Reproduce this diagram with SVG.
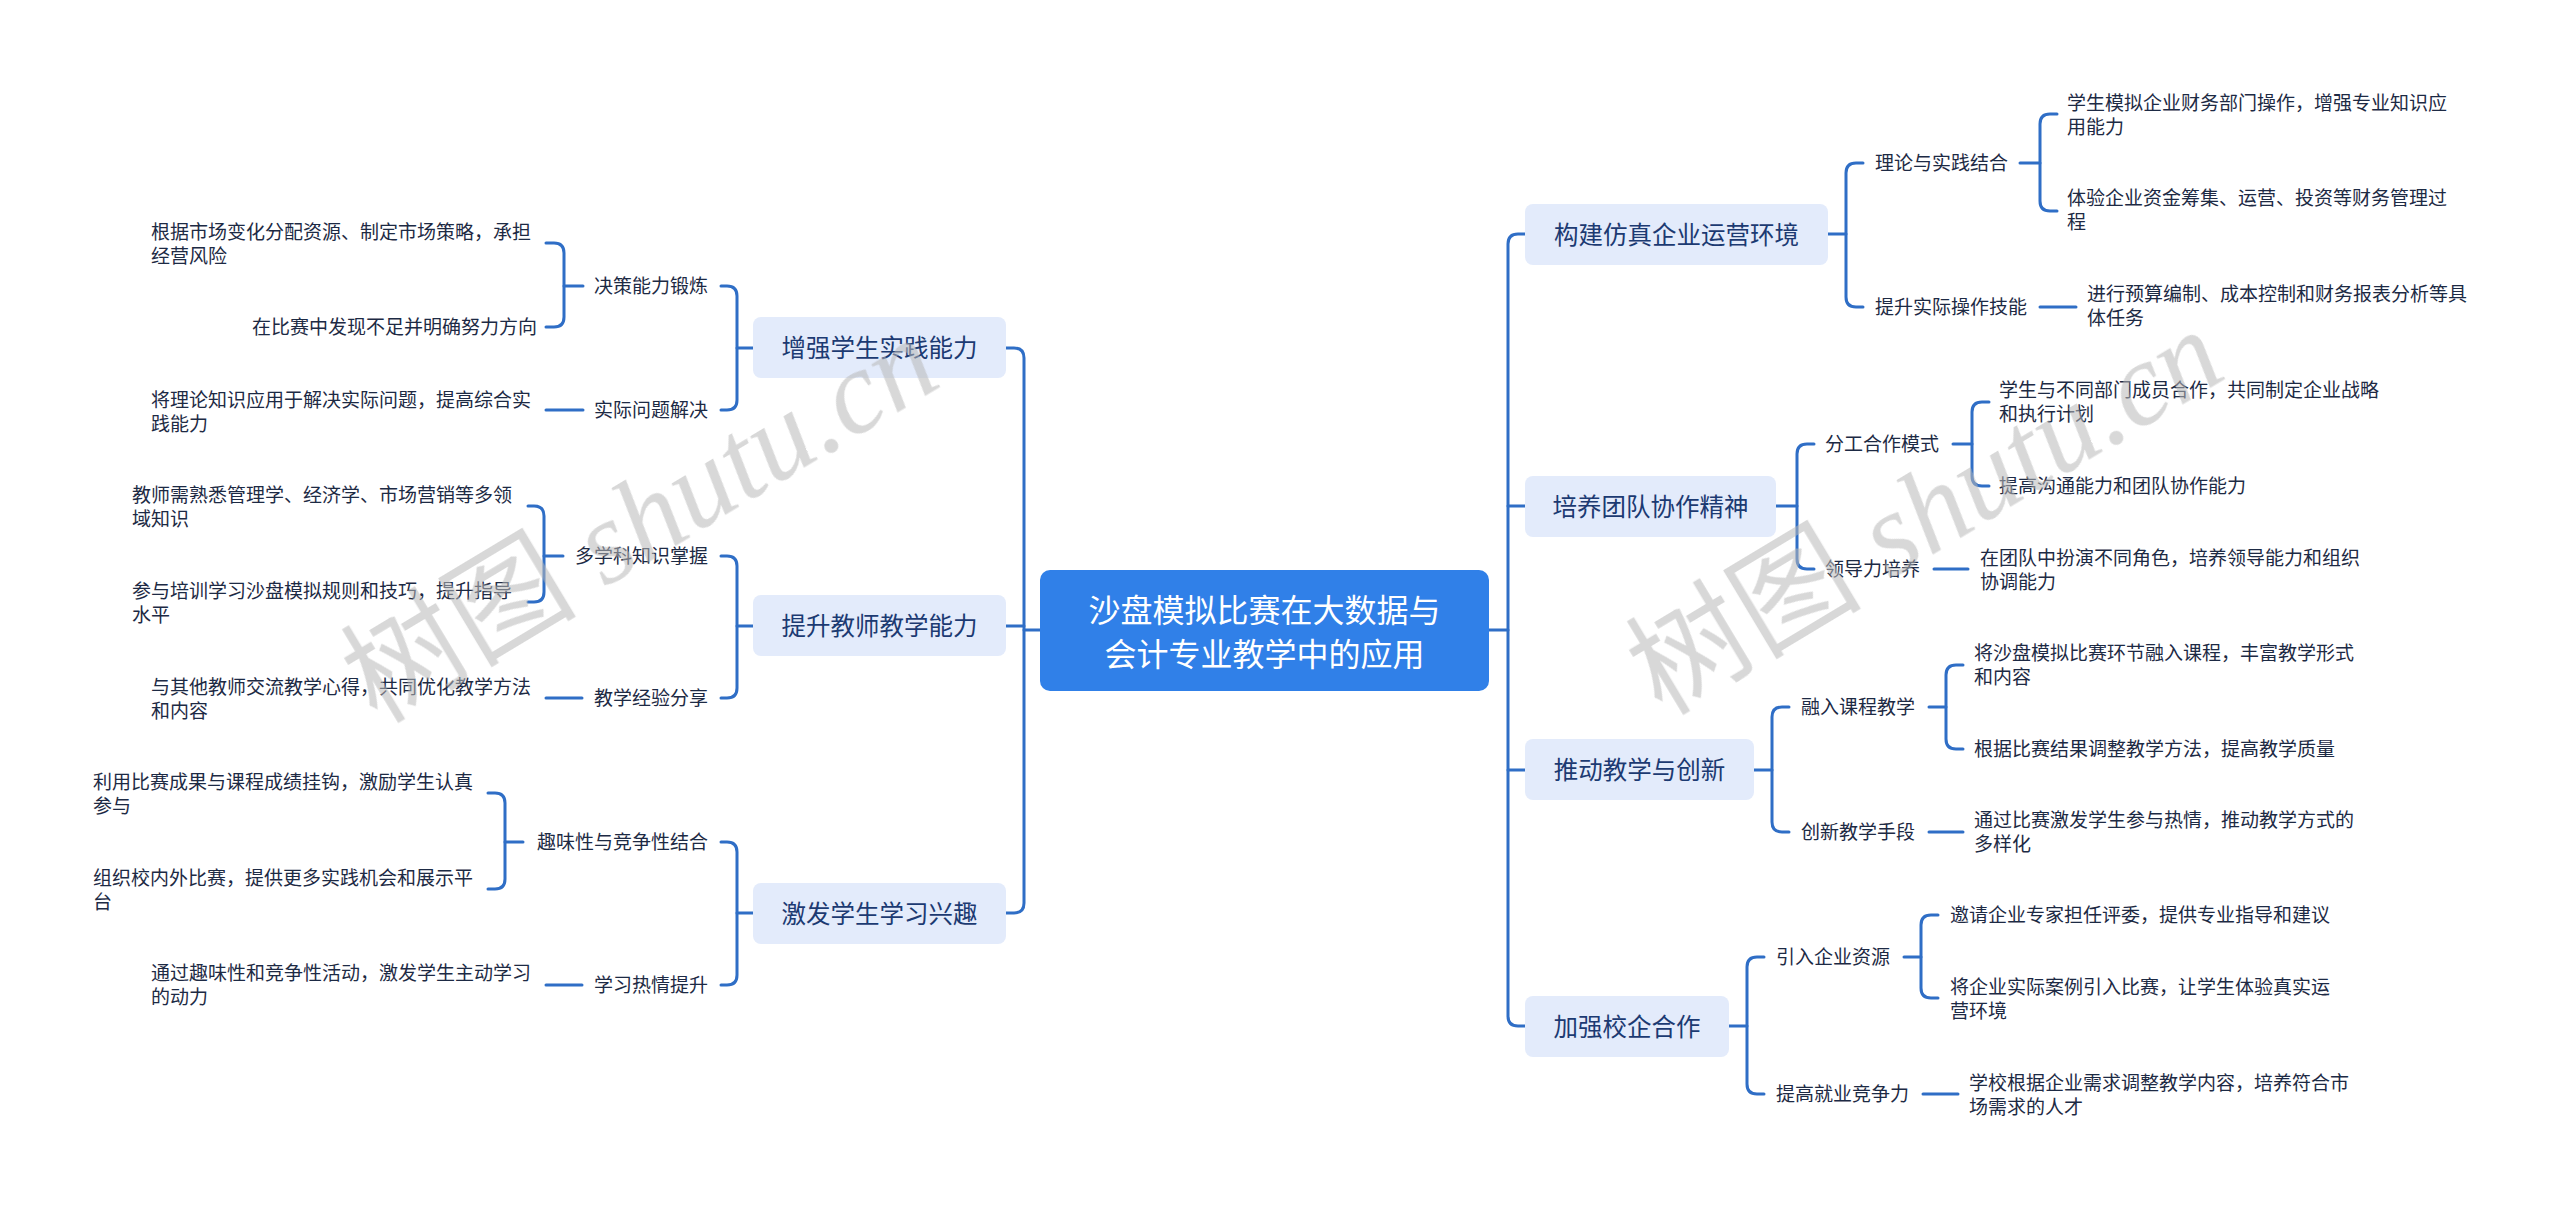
<svg xmlns="http://www.w3.org/2000/svg" width="2560" height="1210" viewBox="0 0 2560 1210">
<style>
.bg{fill:#ffffff}
.conn path{fill:none;stroke:#2f6ec6;stroke-width:3;stroke-linecap:round;stroke-linejoin:round}
.root rect{fill:#3080e8}
.root text{fill:#ffffff;font-family:"Noto Sans CJK SC","Noto Sans",sans-serif;font-size:32px;text-anchor:middle}
.main rect{fill:#e3ebfb}
.main text{fill:#1c3a72;font-family:"Noto Sans CJK SC","Noto Sans",sans-serif;font-size:24.5px;text-anchor:middle}
.sub text,.leaf text{fill:#1d2a44;font-family:"Noto Sans CJK SC","Noto Sans",sans-serif;font-size:19px}
.wm{fill:#b8b8b8;opacity:0.55;font-size:118px}
.wm .cjk{font-family:"Noto Sans CJK SC",sans-serif}
.wm .lat{font-family:"Liberation Serif",serif;font-style:italic}
</style>
<rect class="bg" x="0" y="0" width="2560" height="1210"/>

<g id="connectors" class="conn">
  <!-- left main -->
  <path d="M1040,630 H1024"/>
  <path d="M1006,348 H1014 Q1024,348 1024,358 V903 Q1024,913 1014,913 H1006"/>
  <path d="M1006,626 H1024"/>
  <!-- left sub trunks -->
  <path d="M753,348 H737"/>
  <path d="M721,286 H727 Q737,286 737,296 V400 Q737,410 727,410 H721"/>
  <path d="M753,626 H737"/>
  <path d="M721,556 H727 Q737,556 737,566 V688 Q737,698 727,698 H721"/>
  <path d="M753,913 H737"/>
  <path d="M721,842 H727 Q737,842 737,852 V975 Q737,985 727,985 H721"/>
  <!-- left leaf brackets -->
  <path d="M583,286 H564"/>
  <path d="M546,243 H554 Q564,243 564,253 V317 Q564,327 554,327 H546"/>
  <path d="M583,410 H546"/>
  <path d="M563,556 H544"/>
  <path d="M528,506 H534 Q544,506 544,516 V592 Q544,602 534,602 H528"/>
  <path d="M582,698 H546"/>
  <path d="M523,842 H505"/>
  <path d="M488,793 H495 Q505,793 505,803 V879 Q505,889 495,889 H488"/>
  <path d="M582,985 H546"/>
  <!-- right main -->
  <path d="M1489,630 H1508"/>
  <path d="M1525,234 H1518 Q1508,234 1508,244 V1016 Q1508,1026 1518,1026 H1525"/>
  <path d="M1508,506 H1525"/>
  <path d="M1508,770 H1525"/>
  <!-- right sub trunks -->
  <path d="M1828,234 H1846"/>
  <path d="M1863,163 H1856 Q1846,163 1846,173 V297 Q1846,307 1856,307 H1863"/>
  <path d="M1776,506 H1797"/>
  <path d="M1814,444 H1807 Q1797,444 1797,454 V559 Q1797,569 1807,569 H1814"/>
  <path d="M1754,770 H1772"/>
  <path d="M1789,707 H1782 Q1772,707 1772,717 V822 Q1772,832 1782,832 H1789"/>
  <path d="M1729,1026 H1747"/>
  <path d="M1764,957 H1757 Q1747,957 1747,967 V1084 Q1747,1094 1757,1094 H1764"/>
  <!-- right leaf brackets -->
  <path d="M2020,163 H2040"/>
  <path d="M2057,114 H2050 Q2040,114 2040,124 V201 Q2040,211 2050,211 H2057"/>
  <path d="M2040,307 H2076"/>
  <path d="M1953,444 H1972"/>
  <path d="M1989,402 H1982 Q1972,402 1972,412 V476 Q1972,486 1982,486 H1989"/>
  <path d="M1934,569 H1968"/>
  <path d="M1929,707 H1946"/>
  <path d="M1963,665 H1956 Q1946,665 1946,675 V739 Q1946,749 1956,749 H1963"/>
  <path d="M1929,832 H1963"/>
  <path d="M1904,957 H1921"/>
  <path d="M1938,915 H1931 Q1921,915 1921,925 V988 Q1921,998 1931,998 H1938"/>
  <path d="M1923,1094 H1958"/>
</g>

<g id="root" class="root">
  <rect x="1040" y="570" width="449" height="121" rx="10"/>
  <text x="1264.5" y="622">沙盘模拟比赛在大数据与</text>
  <text x="1264.5" y="666">会计专业教学中的应用</text>
</g>

<g id="n-zengqiang" class="main"><rect x="753" y="317" width="253" height="61" rx="8"/><text x="879.5" y="357">增强学生实践能力</text></g>
<g id="n-tisheng" class="main"><rect x="753" y="595" width="253" height="61" rx="8"/><text x="879.5" y="635">提升教师教学能力</text></g>
<g id="n-jifa" class="main"><rect x="753" y="883" width="253" height="61" rx="8"/><text x="879.5" y="923">激发学生学习兴趣</text></g>
<g id="n-goujian" class="main"><rect x="1525" y="204" width="303" height="61" rx="8"/><text x="1676.5" y="244">构建仿真企业运营环境</text></g>
<g id="n-peiyang" class="main"><rect x="1525" y="476" width="251" height="61" rx="8"/><text x="1650.5" y="516">培养团队协作精神</text></g>
<g id="n-tuidong" class="main"><rect x="1525" y="739" width="229" height="61" rx="8"/><text x="1639.5" y="779">推动教学与创新</text></g>
<g id="n-jiaqiang" class="main"><rect x="1525" y="996" width="204" height="61" rx="8"/><text x="1627" y="1036">加强校企合作</text></g>

<g id="subs-left" class="sub" text-anchor="end">
  <g id="s-juece"><text x="708" y="293">决策能力锻炼</text></g>
  <g id="s-shiji"><text x="708" y="417">实际问题解决</text></g>
  <g id="s-duoxueke"><text x="708" y="563">多学科知识掌握</text></g>
  <g id="s-jingyan"><text x="708" y="705">教学经验分享</text></g>
  <g id="s-quwei"><text x="708" y="849">趣味性与竞争性结合</text></g>
  <g id="s-reqing"><text x="708" y="992">学习热情提升</text></g>
</g>

<g id="subs-right" class="sub">
  <g id="s-lilun"><text x="1875" y="170">理论与实践结合</text></g>
  <g id="s-caozuo"><text x="1875" y="314">提升实际操作技能</text></g>
  <g id="s-fengong"><text x="1825" y="451">分工合作模式</text></g>
  <g id="s-lingdao"><text x="1825" y="576">领导力培养</text></g>
  <g id="s-rongru"><text x="1801" y="714">融入课程教学</text></g>
  <g id="s-chuangxin"><text x="1801" y="839">创新教学手段</text></g>
  <g id="s-yinru"><text x="1776" y="964">引入企业资源</text></g>
  <g id="s-jiuye"><text x="1776" y="1101">提高就业竞争力</text></g>
</g>

<g id="leaves-left" class="leaf">
  <g id="l1"><text x="151" y="239">根据市场变化分配资源、制定市场策略，承担</text><text x="151" y="263">经营风险</text></g>
  <g id="l2"><text x="537" y="334" text-anchor="end">在比赛中发现不足并明确努力方向</text></g>
  <g id="l3"><text x="151" y="407">将理论知识应用于解决实际问题，提高综合实</text><text x="151" y="431">践能力</text></g>
  <g id="l4"><text x="132" y="502">教师需熟悉管理学、经济学、市场营销等多领</text><text x="132" y="526">域知识</text></g>
  <g id="l5"><text x="132" y="598">参与培训学习沙盘模拟规则和技巧，提升指导</text><text x="132" y="622">水平</text></g>
  <g id="l6"><text x="151" y="694">与其他教师交流教学心得，共同优化教学方法</text><text x="151" y="718">和内容</text></g>
  <g id="l7"><text x="93" y="789">利用比赛成果与课程成绩挂钩，激励学生认真</text><text x="93" y="813">参与</text></g>
  <g id="l8"><text x="93" y="885">组织校内外比赛，提供更多实践机会和展示平</text><text x="93" y="909">台</text></g>
  <g id="l9"><text x="151" y="980">通过趣味性和竞争性活动，激发学生主动学习</text><text x="151" y="1004">的动力</text></g>
</g>

<g id="leaves-right" class="leaf">
  <g id="r1"><text x="2067" y="110">学生模拟企业财务部门操作，增强专业知识应</text><text x="2067" y="134">用能力</text></g>
  <g id="r2"><text x="2067" y="205">体验企业资金筹集、运营、投资等财务管理过</text><text x="2067" y="229">程</text></g>
  <g id="r3"><text x="2087" y="301">进行预算编制、成本控制和财务报表分析等具</text><text x="2087" y="325">体任务</text></g>
  <g id="r4"><text x="1999" y="397">学生与不同部门成员合作，共同制定企业战略</text><text x="1999" y="421">和执行计划</text></g>
  <g id="r5"><text x="1999" y="493">提高沟通能力和团队协作能力</text></g>
  <g id="r6"><text x="1980" y="565">在团队中扮演不同角色，培养领导能力和组织</text><text x="1980" y="589">协调能力</text></g>
  <g id="r7"><text x="1974" y="660">将沙盘模拟比赛环节融入课程，丰富教学形式</text><text x="1974" y="684">和内容</text></g>
  <g id="r8"><text x="1974" y="756">根据比赛结果调整教学方法，提高教学质量</text></g>
  <g id="r9"><text x="1974" y="827">通过比赛激发学生参与热情，推动教学方式的</text><text x="1974" y="851">多样化</text></g>
  <g id="r10"><text x="1950" y="922">邀请企业专家担任评委，提供专业指导和建议</text></g>
  <g id="r11"><text x="1950" y="994">将企业实际案例引入比赛，让学生体验真实运</text><text x="1950" y="1018">营环境</text></g>
  <g id="r12"><text x="1969" y="1090">学校根据企业需求调整教学内容，培养符合市</text><text x="1969" y="1114">场需求的人才</text></g>
</g>

<g id="watermarks" class="wm">
  <text transform="translate(640,520) rotate(-31)" text-anchor="middle" y="40"><tspan class="cjk">树图</tspan><tspan class="lat"> shutu.cn</tspan></text>
  <text transform="translate(1925,512) rotate(-31)" text-anchor="middle" y="40"><tspan class="cjk">树图</tspan><tspan class="lat"> shutu.cn</tspan></text>
</g>
</svg>
